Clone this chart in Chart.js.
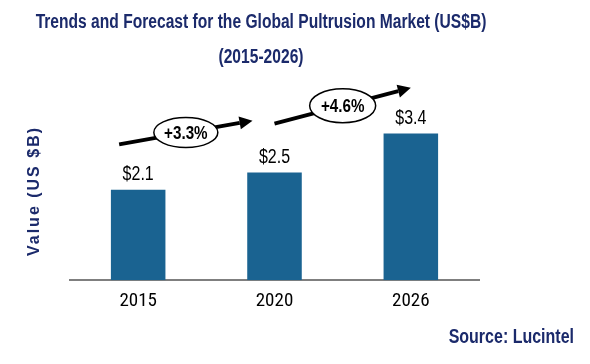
<!DOCTYPE html>
<html>
<head>
<meta charset="utf-8">
<script src="https://cdn.jsdelivr.net/npm/chart.js@4/dist/chart.umd.min.js"></script>
<style>
    html, body { margin: 0; padding: 0; background: #fff; }
    #chart { display: block; }
</style>
</head>
<body>
<canvas id="chart" width="590" height="364"></canvas>
<script>
// ---- data ----
var years   = ['2015', '2020', '2026'];
var values  = [2.1, 2.5, 3.4];
var growth  = ['+3.3%', '+4.6%'];

var titleLines = ['Trends and Forecast for the Global Pultrusion Market (US$B)', '(2015-2026)'];
var yTitle     = 'Value (US $B)';
var sourceText = 'Source: Lucintel';

var NAVY = '#1b2a6b';
var BAR  = '#1a6391';
var SANS = '"Liberation Sans", Arial, sans-serif';
var COND = '"Roboto Condensed", "Liberation Sans", sans-serif';

// arrow layout: value units for y, px offsets from bar centres for x
var arrows = [
    { from: 0, to: 1, dx0: -19, dx1: -22, v0: 3.15, v1: 3.7,  ew: 64, eh: 30 },
    { from: 1, to: 2, dx0: 0,   dx1: 0,   v0: 3.63, v1: 4.46, ew: 66, eh: 34 }
];

// Arial-Narrow look: Liberation Sans squeezed horizontally
function narrowText(ctx, text, x, y, font, sx) {
    ctx.save();
    ctx.font = font;
    ctx.translate(x, y);
    ctx.scale(sx, 1);
    ctx.fillText(text, 0, 0);
    ctx.restore();
}

function drawArrow(ctx, x0, y0, x1, y1) {
    var ang = Math.atan2(y1 - y0, x1 - x0);
    var head = 13, half = 6.5;
    var bx = x1 - Math.cos(ang) * head;
    var by = y1 - Math.sin(ang) * head;
    ctx.strokeStyle = '#000';
    ctx.lineWidth = 4;
    ctx.beginPath();
    ctx.moveTo(x0, y0);
    ctx.lineTo(bx, by);
    ctx.stroke();
    ctx.fillStyle = '#000';
    ctx.beginPath();
    ctx.moveTo(x1, y1);
    ctx.lineTo(bx + Math.sin(ang) * half, by - Math.cos(ang) * half);
    ctx.lineTo(bx - Math.sin(ang) * half, by + Math.cos(ang) * half);
    ctx.closePath();
    ctx.fill();
}

var decorPlugin = {
    id: 'decor',
    afterDraw: function (chart) {
        var ctx = chart.ctx;
        var yScale = chart.scales.y;
        var bars = chart.getDatasetMeta(0).data;
        ctx.save();

        // title
        ctx.fillStyle = NAVY;
        ctx.textAlign = 'center';
        ctx.textBaseline = 'middle';
        narrowText(ctx, titleLines[0], 261, 23, 'bold 19.5px ' + SANS, 0.8);
        narrowText(ctx, titleLines[1], 261, 58, 'bold 19.5px ' + SANS, 0.8);

        // y axis title
        ctx.save();
        ctx.translate(35, 191);
        ctx.rotate(-Math.PI / 2);
        ctx.font = 'bold 16px ' + SANS;
        ctx.letterSpacing = '2px';
        ctx.fillText(yTitle, 0, 0);
        ctx.restore();

        // source
        ctx.textAlign = 'right';
        narrowText(ctx, sourceText, 574, 337, 'bold 20px ' + SANS, 0.8);

        // value labels
        ctx.fillStyle = '#000';
        ctx.textAlign = 'center';
        ctx.textBaseline = 'bottom';
        bars.forEach(function (bar, i) {
            narrowText(ctx, '$' + values[i].toFixed(1), bar.x, bar.y - 5, '20px ' + SANS, 0.8);
        });

        // growth arrows with CAGR ellipses
        arrows.forEach(function (a, i) {
            var x0 = bars[a.from].x + a.dx0, y0 = yScale.getPixelForValue(a.v0);
            var x1 = bars[a.to].x + a.dx1,   y1 = yScale.getPixelForValue(a.v1);
            drawArrow(ctx, x0, y0, x1, y1);
            var cx = (x0 + x1) / 2, cy = (y0 + y1) / 2;
            ctx.beginPath();
            ctx.ellipse(cx, cy, a.ew / 2, a.eh / 2, 0, 0, Math.PI * 2);
            ctx.fillStyle = '#fff';
            ctx.fill();
            ctx.lineWidth = 1.5;
            ctx.strokeStyle = '#000';
            ctx.stroke();
            ctx.fillStyle = '#000';
            ctx.textBaseline = 'middle';
            narrowText(ctx, growth[i], cx, cy + 1, 'bold 19px ' + SANS, 0.8);
        });

        ctx.restore();
    }
};

new Chart(document.getElementById('chart'), {
    type: 'bar',
    data: {
        labels: years,
        datasets: [{
            data: values,
            backgroundColor: BAR,
            barPercentage: 0.4,
            categoryPercentage: 1.0
        }]
    },
    options: {
        responsive: false,
        animation: false,
        layout: { padding: { left: 70, right: 111, top: 112, bottom: 41 } },
        plugins: {
            legend: { display: false },
            tooltip: { enabled: false }
        },
        scales: {
            x: {
                grid: { display: false, drawTicks: false },
                border: { color: '#7f7f7f', width: 2 },
                ticks: { color: '#000', padding: 10, font: { family: COND, size: 19 } }
            },
            y: { display: false, min: 0, max: 3.9 }
        }
    },
    plugins: [decorPlugin]
});
</script>
</body>
</html>
